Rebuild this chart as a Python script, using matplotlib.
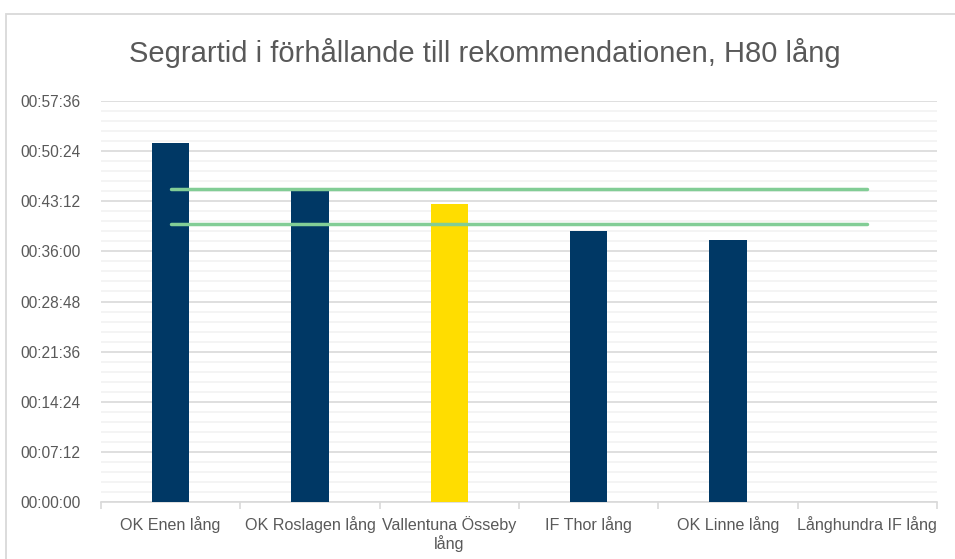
import numpy as np
import matplotlib.pyplot as plt
from matplotlib.ticker import FixedLocator, FuncFormatter
from matplotlib.patches import Rectangle

##### DATA #####
CLUBS = ["OK Enen lång", "OK Roslagen lång", "Vallentuna Össeby\nlång",
         "IF Thor lång", "OK Linne lång", "Långhundra IF lång"]
# winning times in seconds
WIN_TIMES = [3094, 2683, 2568, 2335, 2258, 0]
# recommended time interval (seconds)
REC_LOW = [2400] * 6
REC_HIGH = [2700] * 6
HIGHLIGHT = "Vallentuna Össeby\nlång"

##### STYLE #####
NAVY = "#003865"
YELLOW = "#FFDD00"
GREEN = "#82CD96"
TEXT = "#595959"
Y_MAX = 3456
Y_STEP = 432

plt.rcParams['font.family'] = ['Liberation Sans', 'DejaVu Sans']


def hms(v, pos=None):
    v = int(round(v))
    return f"{v // 3600:02d}:{(v % 3600) // 60:02d}:{v % 60:02d}"


fig = plt.figure(figsize=(9.55, 5.59), dpi=100)
ax = fig.add_axes([101 / 955, 1 - 502 / 559, 836 / 955, 401 / 559])

# chart border (only top and left visible in the crop)
fig.patches.append(Rectangle((6 / 955, -0.1), 1.2, (559 - 14) / 559 + 0.1,
                             transform=fig.transFigure, fill=False,
                             edgecolor="#D9D9D9", linewidth=1.3))

x = np.arange(len(CLUBS))
colors = [YELLOW if c == HIGHLIGHT else NAVY for c in CLUBS]
ax.bar(x, WIN_TIMES, width=0.27, color=colors, zorder=3)
ax.plot(x, REC_HIGH, color=GREEN, linewidth=2.5, zorder=4, solid_capstyle='round')
ax.plot(x, REC_LOW, color=GREEN, linewidth=2.5, zorder=4, solid_capstyle='round')

ax.set_xlim(-0.5, len(CLUBS) - 0.5)
ax.set_ylim(0, Y_MAX)
ax.yaxis.set_major_locator(FixedLocator(np.arange(0, Y_MAX + 1, Y_STEP)))
ax.yaxis.set_minor_locator(FixedLocator(np.arange(0, Y_MAX + 1, Y_STEP / 5)))
ax.yaxis.set_major_formatter(FuncFormatter(hms))
ax.grid(axis='y', which='major', color="#D9D9D9", linewidth=1.2, zorder=0)
ax.grid(axis='y', which='minor', color="#F2F2F2", linewidth=1.2, zorder=0)
ax.set_axisbelow(True)

ax.set_xticks(x)
ax.set_xticklabels(CLUBS, color=TEXT, fontsize=11.6, linespacing=1.15)
ax.xaxis.set_minor_locator(FixedLocator(np.arange(-0.5, len(CLUBS), 1)))
ax.tick_params(axis='x', which='major', length=0, pad=10)
ax.tick_params(axis='x', which='minor', length=5, color="#D9D9D9", width=1.2)
ax.tick_params(axis='y', which='both', length=0, labelsize=11.2, labelcolor=TEXT, pad=15)

for s in ['top', 'right', 'left']:
    ax.spines[s].set_visible(False)
ax.spines['bottom'].set_color("#D9D9D9")
ax.spines['bottom'].set_linewidth(1.2)

fig.text(485 / 955, 1 - 53 / 559, "Segrartid i förhållande till rekommendationen, H80 lång",
         ha='center', va='center', fontsize=21, color=TEXT)

fig.savefig("out.png", dpi=100)
